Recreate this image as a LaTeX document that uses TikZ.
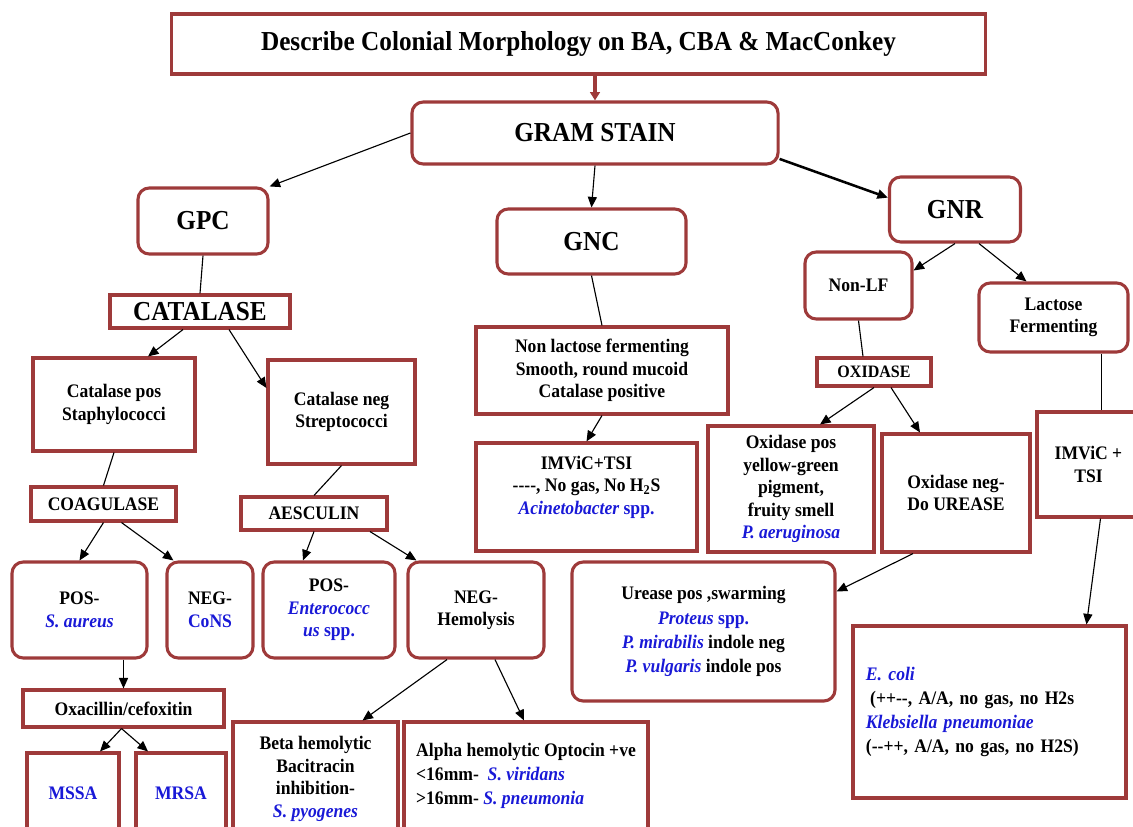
\documentclass[tikz,border=0pt]{standalone}
\usepackage{fontspec}
\setmainfont{Liberation Serif}[FakeStretch=0.92]
\usepackage{xcolor}
\usepackage{tikz}
\usetikzlibrary{positioning, arrows.meta, calc}

\definecolor{boxred}{RGB}{158,58,58}
\definecolor{bugblue}{RGB}{25,25,215}
\newcommand{\microbe}[1]{{\color{bugblue}\itshape #1}}
\newcommand{\bluetext}[1]{{\color{bugblue}#1}}

\begin{document}
\begin{tikzpicture}[
    x=0.025cm, y=-0.025cm,
    every node/.style={align=center, inner sep=0pt, font=\bfseries\fontsize{13.6}{16}\selectfont},
    sqbox/.style={draw=boxred, line width=2.2pt},
    rndbox/.style={sqbox, rounded corners=8pt},
    big/.style={font=\bfseries\fontsize{19.5}{21}\selectfont},
    link/.style={draw, line width=0.8pt},
    arr/.style={link, -{Triangle[length=7.5pt, width=6.5pt]}}
]
\useasboundingbox (0,0) rectangle (1133,827);
\clip (0,0) rectangle (1133,827);

\node[sqbox, big, minimum width=20.325cm, minimum height=1.5cm] (title) at (578.5,44) {Describe Colonial Morphology on BA, CBA \& MacConkey};
\node[rndbox, big, minimum width=9.15cm, minimum height=1.55cm] (gram) at (595,133) {GRAM STAIN};
\node[rndbox, big, minimum width=3.25cm, minimum height=1.65cm] (gpc) at (203,221) {GPC};
\node[rndbox, big, minimum width=4.725cm, minimum height=1.625cm] (gnc) at (591.5,241.5) {GNC};
\node[rndbox, big, minimum width=3.275cm, minimum height=1.625cm] (gnr) at (955,209.5) {GNR};

% gram positive cocci
\node[sqbox, big, minimum width=4.5cm, minimum height=0.825cm] (catalase) at (200,311.5) {CATALASE};
\node[sqbox, minimum width=4.05cm, minimum height=2.325cm] (catpos) at (114,404.5) {Catalase pos\\Staphylococci};
\node[sqbox, minimum width=3.675cm, minimum height=2.6cm] (catneg) at (341.5,412) {Catalase neg\\Streptococci};
\node[sqbox, minimum width=3.625cm, minimum height=0.85cm] (coag) at (103.5,504) {COAGULASE};
\node[sqbox, minimum width=3.65cm, minimum height=0.825cm] (aesc) at (314,513.5) {AESCULIN};
\node[rndbox, minimum width=3.375cm, minimum height=2.4cm] (saureus) at (79.5,610) {POS-\\\microbe{S. aureus}};
\node[rndbox, minimum width=2.15cm, minimum height=2.4cm] (cons) at (210,610) {NEG-\\\bluetext{CoNS}};
\node[rndbox, minimum width=3.3cm, minimum height=2.4cm] (entero) at (329,610) {POS-\\\microbe{Enterococc}\\\microbe{us} \bluetext{spp.}};
\node[rndbox, minimum width=3.4cm, minimum height=2.4cm] (neghem) at (476,610) {NEG-\\Hemolysis};
\node[sqbox, minimum width=5.025cm, minimum height=0.925cm] (oxa) at (123.5,708.5) {Oxacillin/cefoxitin};
\node[sqbox, minimum width=2.3cm, minimum height=2cm] (mssa) at (73,793) {\bluetext{MSSA}};
\node[sqbox, minimum width=2.25cm, minimum height=2cm] (mrsa) at (181,793) {\bluetext{MRSA}};
\node[sqbox, minimum width=4.125cm, minimum height=2.85cm] (beta) at (315.5,779) {Beta hemolytic\\Bacitracin\\inhibition-\\\microbe{S. pyogenes}};
\node[sqbox, align=left, minimum width=6.1cm, minimum height=2.7cm, font=\bfseries\fontsize{13.6}{16.8}\selectfont] (alpha) at (526,776) {Alpha hemolytic Optocin +ve\\<16mm-\ \ \microbe{S. viridans}\\>16mm- \microbe{S. pneumonia}};

% gram negative cocci
\node[sqbox, minimum width=6.3cm, minimum height=2.175cm] (nonlac) at (602,370.5) {Non lactose fermenting\\Smooth, round mucoid\\Catalase positive};
\node[sqbox, minimum width=5.525cm, minimum height=2.7cm] (imvic) at (586.5,497) {};
\node (imvictext) at (586.5,487) {IMViC+TSI\\-{}-{}-{}-, No gas, No H\textsubscript{2}S\\\microbe{Acinetobacter} \bluetext{spp.}};

% gram negative rods
\node[rndbox, minimum width=2.675cm, minimum height=1.675cm] (nonlf) at (858.5,285.5) {Non-LF};
\node[rndbox, minimum width=3.725cm, minimum height=1.725cm] (lacf) at (1053.5,317.5) {Lactose\\Fermenting};
\node[sqbox, minimum width=2.85cm, minimum height=0.7cm, font=\bfseries\fontsize{12.4}{13}\selectfont] (oxidase) at (874,372) {OXIDASE};
\node[sqbox, minimum width=4.15cm, minimum height=3.15cm] (oxpos) at (791,489) {Oxidase pos\\yellow-green\\pigment,\\fruity smell\\\microbe{P. aeruginosa}};
\node[sqbox, minimum width=3.7cm, minimum height=2.95cm] (oxneg) at (956,493) {Oxidase neg-\\Do UREASE};
\node[sqbox, minimum width=2.575cm, minimum height=2.625cm] (imvic2) at (1088.5,464.5) {IMViC +\\TSI};
\node[rndbox, minimum width=6.575cm, minimum height=3.475cm, font=\bfseries\fontsize{13.6}{17.2}\selectfont] (urease) at (703.5,631.5) {Urease pos ,swarming\\\microbe{Proteus} \bluetext{spp.}\\\microbe{P. mirabilis} indole neg\\\microbe{P. vulgaris} indole pos};
\node[sqbox, align=left, text width=6.175cm, inner xsep=0.325cm, minimum height=4.3cm, font=\bfseries\fontsize{13.6}{17.2}\selectfont] (ecoli) at (989.5,712) {\microbe{E. coli}\\\hspace*{3pt}(++-{}-, A/A, no gas, no H2s\\\microbe{Klebsiella pneumoniae}\\(-{}-++, A/A, no gas, no H2S)};

\draw[line width=2.5pt, boxred, -{Triangle[length=6pt, width=7pt]}] (gram.north |- title.south) -- (gram.north);
\draw[arr] (gram.west) -- (gpc.north east);
\draw[arr] (gram.south) -- (gnc.north);
\draw[arr, line width=1.8pt] (gram.-8) -- (gnr.170);

\draw[link] (gpc.south) -- (catalase.north);
\draw[arr] ($(catalase.south)+(-17,0)$) -- ($(catpos.north)+(34,0)$);
\draw[arr] ($(catalase.south)+(29,0)$) -- ($(catneg.west)+(0,-24)$);
\draw[link] (catpos.south) -- (coag.north);
\draw[link] (catneg.south) -- (aesc.north);
\draw[arr] (coag.south) -- (saureus.north);
\draw[arr] ($(coag.south)+(18,0)$) -- ($(cons.north west)+(8,0)$);
\draw[arr] (aesc.south) -- ($(entero.north)+(-26,0)$);
\draw[arr] ($(aesc.south)+(56,0)$) -- ($(neghem.north west)+(10,0)$);
\draw[arr] (oxa.north |- saureus.south) -- (oxa.north);
\draw[arr] ($(oxa.south)+(-2,0)$) -- ($(mssa.north)+(27,0)$);
\draw[arr] ($(oxa.south)+(-2,0)$) -- ($(mrsa.north)+(-33,0)$);
\draw[arr] ($(neghem.south)+(-29,0)$) -- ($(beta.north)+(47,0)$);
\draw[arr] ($(neghem.south)+(19,0)$) -- ($(alpha.north)+(-2,0)$);

\draw[link] (gnc.south) -- (nonlac.north);
\draw[arr] (nonlac.south) -- (imvic.north);

\draw[arr] (gnr.south) -- ($(nonlf.east)+(0,-15)$);
\draw[arr] ($(gnr.south)+(24,0)$) -- ($(lacf.north)+(-27,0)$);
\draw[link] (nonlf.south) -- ($(oxidase.north)+(-11,0)$);
\draw[arr] (oxidase.south) -- ($(oxpos.north)+(29,0)$);
\draw[arr] ($(oxidase.south)+(17,0)$) -- ($(oxneg.north)+(-36,0)$);
\draw[link] ($(lacf.south)+(48,0)$) -- ($(imvic2.north)+(13,0)$);
\draw[arr] ($(oxneg.south)+(-43,0)$) -- ($(urease.east)+(0,-40)$);
\draw[arr] ($(imvic2.south)+(12,0)$) -- ($(ecoli.north)+(97,0)$);
\end{tikzpicture}
\end{document}
